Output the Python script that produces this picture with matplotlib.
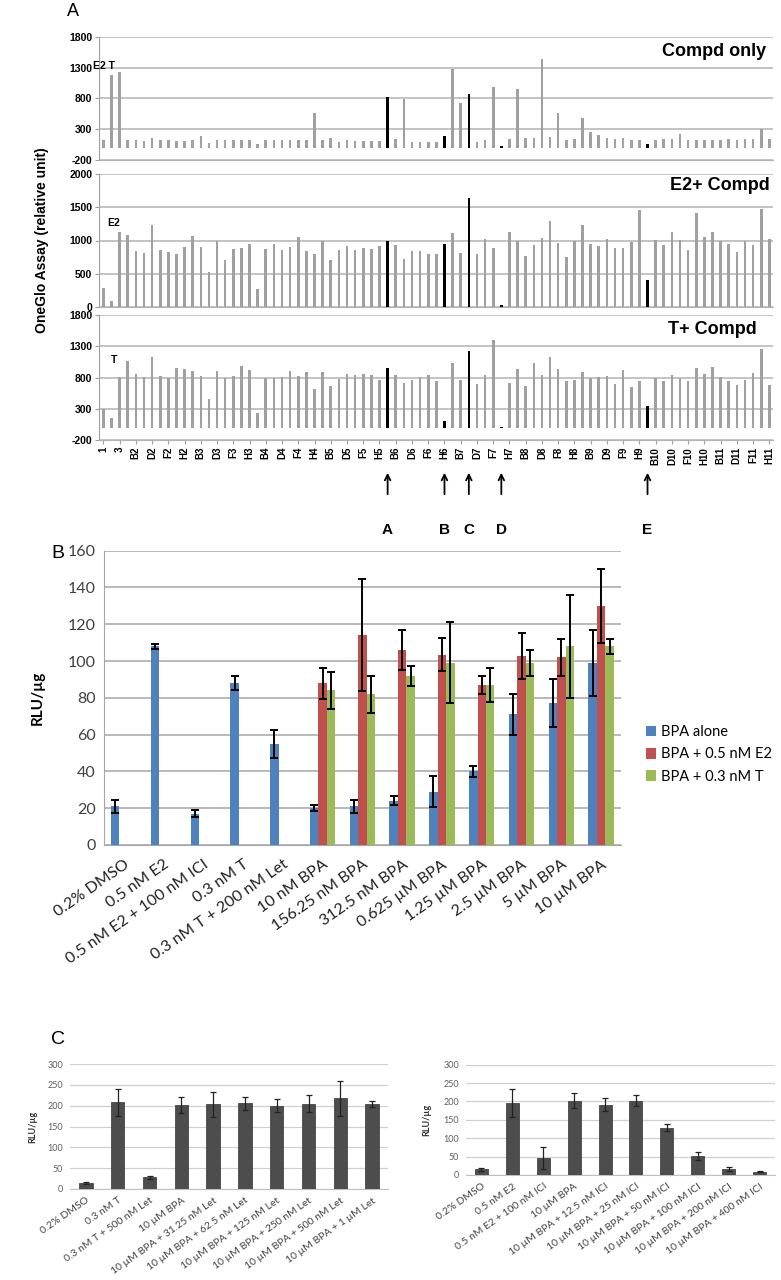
import matplotlib
matplotlib.use("Agg")
import matplotlib.pyplot as plt
import numpy as np

W, H = 781, 1280

# ---------- panel A: OneGlo screen, one bar per well ----------
wells = ["1", "2", "3"] + [row + str(col) for col in range(2, 12) for row in "ABCDEFGH"]

compd_only = [130, 1180, 1230, 130, 130, 115, 150, 120, 130, 115,
              115, 120, 185, 80, 130, 120, 125, 120, 125, 55,
              120, 120, 125, 120, 125, 120, 560, 130, 150, 90,
              130, 115, 115, 110, 115, 830,
              145, 790, 100, 100, 95, 95, 195, 1280, 720, 865,
              90, 120, 990, 25, 145, 950, 160, 160, 1435, 170,
              570, 120, 145, 475, 255, 200, 160, 140, 160, 120,
              120, 65, 120, 140, 140, 215, 120, 120, 130, 130,
              130, 140, 130, 140, 140, 300, 140]

e2_compd = [290, 90, 1125, 1090, 840, 810, 1235, 850, 820, 790,
            895, 1075, 900, 520, 1000, 700, 875, 885, 945, 260,
            875, 945, 850, 895, 1050, 845, 800, 985, 710, 850,
            915, 850, 890, 875, 910, 1000,
            935, 720, 845, 845, 790, 800, 950, 1115, 810, 1635,
            800, 1020, 885, 20, 1125, 1000, 770, 935, 1035, 1300,
            960, 750, 995, 1235, 945, 915, 1025, 890, 890, 970,
            1460, 400, 1005, 935, 1125, 1005, 860, 1415, 1050, 1125,
            1000, 945, 825, 1000, 925, 1475, 1025]

t_compd = [300, 150, 815, 1070, 855, 810, 1135, 825, 795, 960,
           930, 905, 825, 460, 905, 795, 820, 985, 920, 240,
           790, 795, 810, 905, 825, 890, 620, 885, 660, 770,
           850, 840, 860, 840, 755, 960,
           840, 720, 755, 815, 835, 745, 100, 1025, 760, 1220,
           690, 840, 1400, 15, 720, 935, 670, 1025, 840, 1135,
           935, 745, 760, 895, 785, 810, 820, 695, 915, 650,
           745, 350, 785, 745, 840, 785, 745, 960, 850, 970,
           810, 745, 680, 765, 880, 1250, 675]

hit_idx = [35, 42, 45, 49, 67]
hit_names = ["A", "B", "C", "D", "E"]

# ---------- panel B ----------
b_labels = ["0.2% DMSO", "0.5 nM E2", "0.5 nM E2 + 100 nM ICI", "0.3 nM T",
            "0.3 nM T + 200 nM Let", "10 nM BPA", "156.25 nM BPA", "312.5 nM BPA",
            "0.625 \u00b5M BPA", "1.25 \u00b5M BPA", "2.5 \u00b5M BPA", "5 \u00b5M BPA",
            "10 \u00b5M BPA"]
bpa_alone = [21, 108, 17, 88, 55, 20, 21, 24, 29, 40, 71, 77, 99]
bpa_alone_err = [3.5, 1.5, 2, 4, 7.5, 1.5, 3.5, 2.5, 8.5, 3, 11, 13, 18]
bpa_e2 = [88, 114, 106, 103.5, 87, 102.5, 102, 130]
bpa_e2_err = [8.5, 30.5, 11, 9, 4.7, 12.5, 10, 20]
bpa_t = [84, 82, 92, 99, 87, 99, 108, 108]
bpa_t_err = [10, 10, 5.5, 22, 9.4, 7, 28, 4]

# ---------- panel C ----------
c1_labels = ["0.2% DMSO", "0.3 nM T", "0.3 nM T + 500 nM Let", "10 \u00b5M BPA",
             "10 \u00b5M BPA + 31.25 nM Let", "10 \u00b5M BPA + 62.5 nM Let",
             "10 \u00b5M BPA + 125 nM Let", "10 \u00b5M BPA + 250 nM Let",
             "10 \u00b5M BPA + 500 nM Let", "10 \u00b5M BPA + 1 \u00b5M Let"]
c1_vals = [15, 208, 28, 202, 204, 206, 200, 205, 218, 204]
c1_err = [3, 33, 3, 20, 30, 16, 15, 20, 42, 8]

c2_labels = ["0.2% DMSO", "0.5 nM E2", "0.5 nM E2 + 100 nM ICI", "10 \u00b5M BPA",
             "10 \u00b5M BPA + 12.5 nM ICI", "10 \u00b5M BPA + 25 nM ICI",
             "10 \u00b5M BPA + 50 nM ICI", "10 \u00b5M BPA + 100 nM ICI",
             "10 \u00b5M BPA + 200 nM ICI", "10 \u00b5M BPA + 400 nM ICI"]
c2_vals = [15, 197, 45, 202, 191, 202, 129, 51, 17, 9]
c2_err = [3, 38, 30, 20, 18, 15, 10, 11, 5, 2]

ARIAL = ["Liberation Sans", "DejaVu Sans"]
CALI = ["Lato", "DejaVu Sans"]


def px_axes(fig, left, top, right, bottom):
    return fig.add_axes([left / W, 1 - bottom / H, (right - left) / W, (bottom - top) / H])


def ft(fig, x, y, s, **kw):
    return fig.text(x / W, 1 - y / H, s, **kw)


fig = plt.figure(figsize=(W / 100, H / 100), dpi=100)

# ----- A -----
ft(fig, 73, 12, "A", fontsize=13, family=ARIAL, ha="center", va="center")
bar_cols = ["#000000" if i in hit_idx else "#a0a0a0" for i in range(len(wells))]
xa = np.arange(len(wells))

panels = [
    (compd_only, 36.7, 160, -200, 1800, "Compd only", 52, 766),
    (e2_compd, 174.3, 306.7, 0, 2000, "E2+ Compd", 186, 770),
    (t_compd, 315, 440, -200, 1800, "T+ Compd", 330, 757),
]
axes_a = []
for vals, top, bot, lo, hi, title, ty, tx in panels:
    ax = px_axes(fig, 99.3, top, 773.4, bot)
    ax.bar(xa, vals, width=0.32, color=bar_cols, zorder=3)
    ax.set_xlim(-0.5, len(wells) - 0.5)
    ax.set_ylim(lo, hi)
    ticks = np.arange(lo, hi + 1, 500)
    ax.set_yticks(ticks, labels=[str(t) for t in ticks], fontsize=7.5,
                  fontweight="bold", family=ARIAL)
    ax.yaxis.grid(True, color="#b3b3b3", lw=1.1)
    ax.set_axisbelow(True)
    for s in ["top", "right"]:
        ax.spines[s].set_visible(False)
    ax.spines["left"].set_color("#a0a0a0")
    ax.spines["bottom"].set_color("#b3b3b3")
    ax.tick_params(axis="y", length=3, color="#a0a0a0", pad=2)
    ax.tick_params(axis="x", length=0, labelbottom=False)
    ax.patch.set_alpha(0)
    ft(fig, tx, ty, title, fontsize=13, fontweight="bold", family=ARIAL, ha="right", va="center")
    axes_a.append(ax)

ft(fig, 93, 66, "E2 T", fontsize=7.5, fontweight="bold", family=ARIAL, ha="left", va="center")
ft(fig, 107, 223, "E2", fontsize=7.5, fontweight="bold", family=ARIAL, ha="left", va="center")
ft(fig, 111, 360, "T", fontsize=7.5, fontweight="bold", family=ARIAL, ha="left", va="center")

axb = axes_a[2]
axb.set_xticks(xa[::2], labels=wells[::2], rotation=90, fontsize=7,
               fontweight="bold", family=ARIAL)
axb.tick_params(axis="x", length=3, color="#a0a0a0", labelbottom=True, pad=2)
for i, name in zip(hit_idx, hit_names):
    axb.annotate("", xy=(i, 1 - 470 / H), xytext=(i, 1 - 497 / H),
                 xycoords=("data", "figure fraction"), textcoords=("data", "figure fraction"),
                 arrowprops=dict(arrowstyle="->", lw=1.3, color="black"))
    axb.annotate(name, xy=(i, 1 - 530 / H), xycoords=("data", "figure fraction"),
                 ha="center", va="center", fontsize=11, fontweight="bold", family=ARIAL)

ft(fig, 42, 240, "OneGlo Assay (relative unit)", rotation=90, fontsize=10,
   fontweight="bold", family=ARIAL, ha="center", va="center")

# ----- B -----
ft(fig, 58, 553, "B", fontsize=14, family=ARIAL, ha="center", va="center")
ax = px_axes(fig, 103.8, 550.7, 621, 845)
xb = np.arange(len(b_labels))
w = 0.213
ax.bar(xb - w, bpa_alone, width=w, color="#4F81BD", label="BPA alone", zorder=3)
ax.bar(xb[5:], bpa_e2, width=w, color="#C0504D", label="BPA + 0.5 nM E2", zorder=3)
ax.bar(xb[5:] + w, bpa_t, width=w, color="#9BBB59", label="BPA + 0.3 nM T", zorder=3)
ek = dict(fmt="none", ecolor="black", elinewidth=1.4, capsize=3, capthick=1.4, zorder=4)
ax.errorbar(xb - w, bpa_alone, yerr=bpa_alone_err, **ek)
ax.errorbar(xb[5:], bpa_e2, yerr=bpa_e2_err, **ek)
ax.errorbar(xb[5:] + w, bpa_t, yerr=bpa_t_err, **ek)
ax.set_xlim(-0.5, len(b_labels) - 0.5)
ax.set_ylim(0, 160)
ax.set_yticks(np.arange(0, 161, 20), labels=[str(v) for v in range(0, 161, 20)],
              fontsize=11.5, family=CALI, color="#404040")
ax.set_xticks(xb, labels=b_labels, rotation=35, ha="right", rotation_mode="anchor",
              fontsize=11.5, family=CALI, color="#202020")
ax.tick_params(axis="x", length=0, pad=9)
ax.tick_params(axis="y", length=0, pad=6)
ax.yaxis.grid(True, color="#a6a6a6", lw=1.1)
ax.set_axisbelow(True)
for s in ["top", "right"]:
    ax.spines[s].set_visible(False)
ax.spines["left"].set_color("#a6a6a6")
ax.spines["bottom"].set_color("#a6a6a6")
ft(fig, 38, 698, "RLU/\u00b5g", rotation=90, fontsize=11, fontweight="bold",
   family=CALI, ha="center", va="center")
ax.legend(loc="center left", bbox_to_anchor=(646 / W, 1 - 754.5 / H), bbox_transform=fig.transFigure,
          frameon=False, prop={"family": CALI, "size": 10.5}, handlelength=0.7,
          handleheight=0.7, handletextpad=0.35, labelspacing=0.55, borderpad=0,
          borderaxespad=0)

# ----- C -----
ft(fig, 58, 1040, "C", fontsize=14, family=ARIAL, ha="center", va="center")
for labels, vals, err, box, ylab_x in [
    (c1_labels, c1_vals, c1_err, (70, 1064, 388, 1189), 33),
    (c2_labels, c2_vals, c2_err, (466, 1064.7, 775, 1175), 427),
]:
    ax = px_axes(fig, *box)
    xc = np.arange(len(labels))
    ax.bar(xc, vals, width=0.42, color="#4d4d4d", edgecolor="#333333", lw=0.5, zorder=3)
    ax.errorbar(xc, vals, yerr=err, fmt="none", ecolor="#222222", elinewidth=0.9,
                capsize=2, capthick=0.9, zorder=4)
    ax.set_xlim(-0.5, len(labels) - 0.5)
    ax.set_ylim(0, 300)
    ax.set_yticks(np.arange(0, 301, 50), labels=[str(v) for v in range(0, 301, 50)],
                  fontsize=6.5, family=CALI, color="#606060")
    ax.set_xticks(xc, labels=labels, rotation=35, ha="right", rotation_mode="anchor",
                  fontsize=7.5, family=CALI, color="#404040")
    ax.tick_params(axis="both", length=0, pad=5)
    ax.yaxis.grid(True, color="#d0d0d0", lw=0.9)
    ax.set_axisbelow(True)
    for s in ["top", "right", "left"]:
        ax.spines[s].set_visible(False)
    ax.spines["bottom"].set_color("#c0c0c0")
    ft(fig, ylab_x, (box[1] + box[3]) / 2, "RLU/\u00b5g", rotation=90, fontsize=6.5,
       fontweight="bold", family=CALI, ha="center", va="center", color="#303030")

fig.savefig("out.png", dpi=100)
